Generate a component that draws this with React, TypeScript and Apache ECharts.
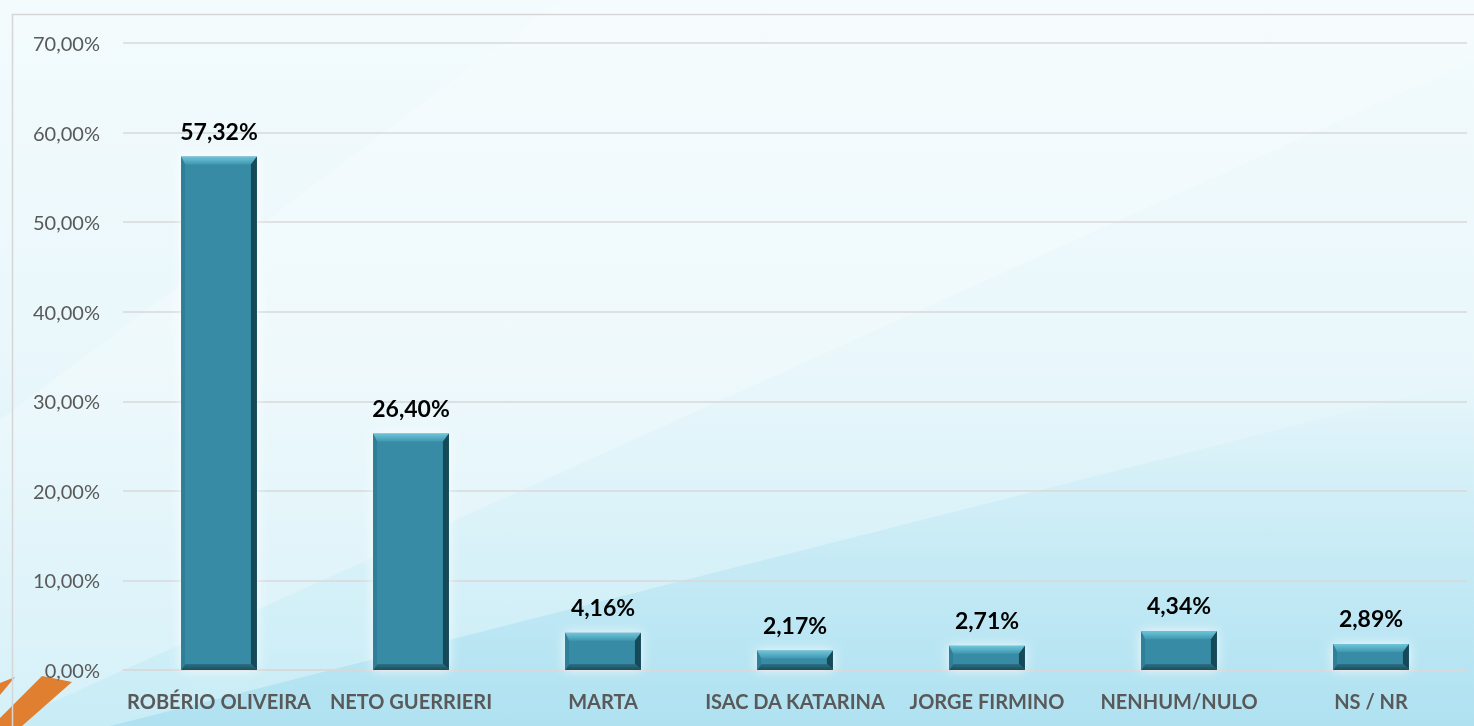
import React, { useEffect, useRef } from "react";
import * as echarts from "echarts";

const categories = [
  "ROBÉRIO OLIVEIRA",
  "NETO GUERRIERI",
  "MARTA",
  "ISAC DA KATARINA",
  "JORGE FIRMINO",
  "NENHUM/NULO",
  "NS / NR",
];
const values = [57.32, 26.4, 4.16, 2.17, 2.71, 4.34, 2.89];
const yMin = 0;
const yMax = 70;
const yInterval = 10;

const fmt = (v: number) => v.toFixed(2).replace(".", ",") + "%";
const FONT = "Lato, 'Open Sans', sans-serif";

export default function App() {
  const ref = useRef<HTMLDivElement>(null);
  useEffect(() => {
    if (!ref.current) return;
    const chart = echarts.init(ref.current, null, { renderer: "svg" });
    const renderItem = (params: any, api: any) => {
      const idx = api.value(0);
      const val = api.value(1);
      const top = api.coord([idx, val]);
      const base = api.coord([idx, 0]);
      const w = api.size([1, 0])[0] * 0.395;
      const l = top[0] - w / 2;
      const r = top[0] + w / 2;
      const t = top[1];
      const b = base[1];
      const h = b - t;
      const bv = Math.min(8, h / 2.4);
      const bs = Math.min(6, h / 3);
      const bl = 4;
      const br = 6;
      return {
        type: "group",
        children: [
          {
            type: "rect",
            shape: { x: l, y: t, width: w, height: h },
            style: { fill: "#388ba5", shadowBlur: 12, shadowColor: "rgba(255,255,255,0.8)" },
          },
          {
            type: "polygon",
            shape: { points: [[l, t], [r, t], [r - br, t + bv], [l + bl, t + bv]] },
            style: {
              fill: new echarts.graphic.LinearGradient(0, 0, 0, 1, [
                { offset: 0, color: "#6fc6da" },
                { offset: 1, color: "#3f97b0" },
              ]),
            },
          },
          {
            type: "polygon",
            shape: { points: [[r, t], [r, b], [r - br, b - bs], [r - br, t + bv]] },
            style: { fill: "#174a59" },
          },
          {
            type: "polygon",
            shape: { points: [[l, b], [r, b], [r - br, b - bs], [l + bl, b - bs]] },
            style: {
              fill: new echarts.graphic.LinearGradient(0, 0, 0, 1, [
                { offset: 0, color: "#2a6f83" },
                { offset: 1, color: "#1b4f5e" },
              ]),
            },
          },
          {
            type: "polygon",
            shape: { points: [[l, t], [l + bl, t + bv], [l + bl, b - bs], [l, b]] },
            style: { fill: "#2e7f97" },
          },
          {
            type: "text",
            style: {
              text: fmt(val),
              x: top[0],
              y: t - 26,
              align: "center",
              verticalAlign: "middle",
              fill: "#000000",
              font: `bold 23px ${FONT}`,
            },
          },
        ],
      };
    };
    chart.setOption({
      animation: false,
      graphic: [
        {
          type: "rect",
          z: -10,
          silent: true,
          shape: { x: 0, y: 0, width: 1474, height: 726 },
          style: {
            fill: new echarts.graphic.LinearGradient(0, 0, 0, 1, [
              { offset: 0, color: "#f3fbfd" },
              { offset: 0.5, color: "#e9f7fb" },
              { offset: 1, color: "#c8ecf6" },
            ]),
          },
        },
        {
          type: "polygon",
          z: -9,
          silent: true,
          shape: { points: [[0, 726], [0, 420], [560, 0], [1474, 0], [1474, 60]] },
          style: { fill: "rgba(255,255,255,0.25)" },
        },
        {
          type: "polygon",
          z: -9,
          silent: true,
          shape: { points: [[110, 726], [1474, 380], [1474, 726]] },
          style: {
            fill: new echarts.graphic.LinearGradient(0, 0, 0, 1, [
              { offset: 0, color: "rgba(150,215,236,0)" },
              { offset: 1, color: "rgba(150,215,236,0.5)" },
            ]),
          },
        },
        {
          type: "polygon",
          z: -8,
          silent: true,
          shape: { points: [[0, 683], [15, 677], [0, 695]] },
          style: { fill: "#e07f30" },
        },
        {
          type: "polygon",
          z: -8,
          silent: true,
          shape: { points: [[42, 676], [72, 682], [22, 726], [-8, 726]] },
          style: { fill: "#e07f30" },
        },
        {
          type: "polyline",
          z: -7,
          silent: true,
          shape: { points: [[12.5, 740], [12.5, 14.5], [1480, 14.5]] },
          style: { stroke: "#d6d6d6", lineWidth: 1.5, fill: "none" },
        },
      ],
      grid: { left: 123, right: 7, top: 43, bottom: 56, containLabel: false },
      xAxis: {
        type: "category",
        data: categories,
        axisLine: { show: true, lineStyle: { color: "#d9d9d9", width: 1.5 } },
        axisTick: { show: false },
        axisLabel: {
          interval: 0,
          margin: 21,
          color: "#595959",
          fontFamily: FONT,
          fontWeight: "bold",
          fontSize: 20,
        },
      },
      yAxis: {
        type: "value",
        min: yMin,
        max: yMax,
        interval: yInterval,
        axisLine: { show: false },
        axisTick: { show: false },
        splitLine: { lineStyle: { color: "#d9d9d9", width: 1.5 } },
        axisLabel: {
          margin: 23,
          color: "#595959",
          fontFamily: FONT,
          fontSize: 20,
          formatter: (v: number) => fmt(v),
        },
      },
      series: [
        {
          type: "custom",
          renderItem,
          data: values.map((v, i) => [i, v]),
          encode: { x: 0, y: 1 },
          clip: false,
        },
      ],
    });
    return () => chart.dispose();
  }, []);
  return (
    <div
      ref={ref}
      style={{ position: "fixed", left: 0, top: 0, width: 1474, height: 726 }}
    />
  );
}
